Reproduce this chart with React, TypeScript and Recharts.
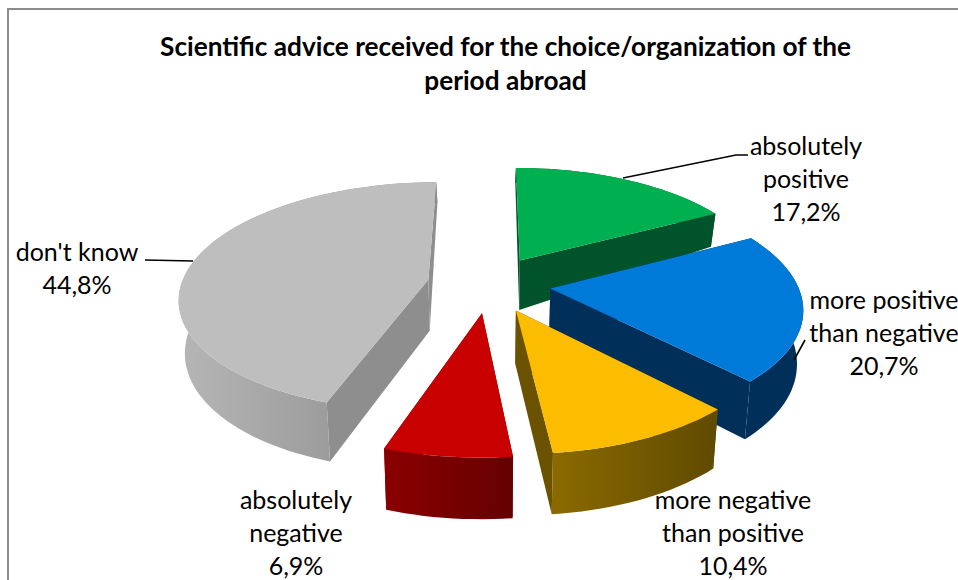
import React from 'react';
import { PieChart, Pie } from 'recharts';

const categories = [
  'absolutely positive',
  'more positive than negative',
  'more negative than positive',
  'absolutely negative',
  "don't know",
];
const shares = [17.2, 20.7, 10.4, 6.9, 44.8];

const titleLines = ['Scientific advice received for the choice/organization of the', 'period abroad'];

const topColors = ['#00b050', '#007ad9', '#fcbd00', '#c80000', '#bebebe'];
const cutColors = ['#00532a', '#00305a', '#6b5200', '#7a0000', '#8e8e8e'];
const wallFrom = ['#00532a', '#00305a', '#8a6a00', '#8a0000', '#b6b6b6'];
const wallTo = ['#00532a', '#00305a', '#5f4a00', '#660000', '#8a8a8a'];

// label text lines and leader lines per slice, in page pixels
const labelLines = [
  ['absolutely', 'positive'],
  ['more positive', 'than negative'],
  ['more negative', 'than positive'],
  ['absolutely', 'negative'],
  ["don't know"],
];
const labelBoxes = [
  { x: 806, y: 155 },
  { x: 884, y: 309 },
  { x: 733, y: 509 },
  { x: 296, y: 509 },
  { x: 77, y: 261 },
];
const leaders = [
  '623,178 736,155 748,155',
  '794,360 805,340',
  '',
  '',
  '145,260 193,261',
];

const WIDTH = 958;
const HEIGHT = 580;
const CX = 489;
const CY = 284;
const RADIUS = 100;

// tilted disc: horizontal / vertical scale, perspective, exploded offset
const SCALE_X = 247;
const SCALE_Y = 113;
const PERSPECTIVE = 0.15;
const EXPLODE = 0.25;
const BOTTOM_SHRINK = 0.98;

const FONT = 'Lato, Carlito, sans-serif';

function wallDepth(v: number) {
  return v > 0.2 ? 50 - 35 * (v - 0.2) : 50 + 8 * (0.2 - v);
}

function project(u: number, v: number, bottom: boolean) {
  const s = 1 / (1 + PERSPECTIVE * v);
  const x = CX + SCALE_X * u * s * (bottom ? BOTTOM_SHRINK : 1);
  const y = CY - SCALE_Y * v * s + (bottom ? wallDepth(v) : 0);
  return `${x.toFixed(1)},${y.toFixed(1)}`;
}

function Slice3D(props: any) {
  const { startAngle, endAngle, outerRadius, index } = props;
  const from = 90 - startAngle;
  const to = 90 - endAngle;
  const mid = (((from + to) / 2) * Math.PI) / 180;
  const ou = EXPLODE * Math.sin(mid);
  const ov = EXPLODE * Math.cos(mid);
  const r = outerRadius / RADIUS;

  const rim: [number, number][] = [];
  const steps = Math.max(8, Math.ceil((to - from) / 2));
  for (let i = 0; i <= steps; i++) {
    const a = ((from + ((to - from) * i) / steps) * Math.PI) / 180;
    rim.push([ou + r * Math.sin(a), ov + r * Math.cos(a)]);
  }
  const first = rim[0];
  const last = rim[rim.length - 1];

  const top = [project(ou, ov, false), ...rim.map(([u, v]) => project(u, v, false))].join(' ');
  const wall = [
    ...rim.map(([u, v]) => project(u, v, false)),
    ...[...rim].reverse().map(([u, v]) => project(u, v, true)),
  ].join(' ');
  const cut = ([u, v]: [number, number]) =>
    [project(ou, ov, false), project(u, v, false), project(u, v, true), project(ou, ov, true)].join(' ');

  const xs = rim.map(([u, v]) => CX + (SCALE_X * u) / (1 + PERSPECTIVE * v));
  const id = `wall-${index}`;
  return (
    <g>
      <defs>
        <linearGradient id={id} gradientUnits="userSpaceOnUse" x1={Math.min(...xs)} y1="0" x2={Math.max(...xs)} y2="0">
          <stop offset="0%" stopColor={wallFrom[index]} />
          <stop offset="100%" stopColor={wallTo[index]} />
        </linearGradient>
      </defs>
      <polygon points={cut(first)} fill={cutColors[index]} />
      <polygon points={cut(last)} fill={cutColors[index]} />
      <polygon points={wall} fill={`url(#${id})`} />
      <polygon points={top} fill={topColors[index]} />
    </g>
  );
}

function SliceLabel(props: any) {
  const { index, value } = props;
  const box = labelBoxes[index];
  const lines = [...labelLines[index], `${String(value).replace('.', ',')}%`];
  return (
    <g>
      {leaders[index] ? <polyline points={leaders[index]} fill="none" stroke="#000" strokeWidth={1.6} /> : null}
      <text x={box.x} y={box.y} textAnchor="middle" fontFamily={FONT} fontSize={25} fill="#000">
        {lines.map((line, i) => (
          <tspan key={line} x={box.x} dy={i === 0 ? 0 : 33}>
            {line}
          </tspan>
        ))}
      </text>
    </g>
  );
}

export default function App() {
  const data = categories.map((name, i) => ({ name, value: shares[i] }));
  return (
    <div style={{ position: 'absolute', left: 0, top: 0, width: WIDTH, height: HEIGHT, overflow: 'hidden', background: '#fff' }}>
      <div style={{ position: 'absolute', left: 7, top: 8, width: WIDTH, height: HEIGHT, border: '2px solid #8c8c8c' }} />
      <div style={{ position: 'absolute', left: 0, top: 0 }}>
        <PieChart width={WIDTH} height={HEIGHT} margin={{ top: 0, right: 0, bottom: 0, left: 0 }}>
          <text x={505.5} y={56} textAnchor="middle" fontFamily={FONT} fontSize={26.2} fontWeight={700} fill="#000">
            {titleLines[0]}
          </text>
          <text x={505.5} y={90} textAnchor="middle" fontFamily={FONT} fontSize={26.2} fontWeight={700} fill="#000">
            {titleLines[1]}
          </text>
          <Pie
            data={data}
            dataKey="value"
            nameKey="name"
            cx={CX}
            cy={CY}
            innerRadius={0}
            outerRadius={RADIUS}
            startAngle={90}
            endAngle={-270}
            stroke="none"
            isAnimationActive={false}
            shape={Slice3D}
            label={SliceLabel}
            labelLine={false}
          />
        </PieChart>
      </div>
    </div>
  );
}
